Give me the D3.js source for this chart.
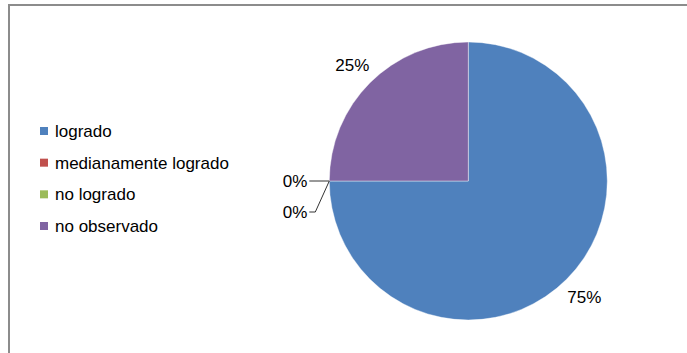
<!DOCTYPE html>
<html>
<head>
<meta charset="utf-8">
<script src="https://cdn.jsdelivr.net/npm/d3@7"></script>
<style>
  html, body { margin: 0; padding: 0; background: #fff; }
  svg { display: block; }
  text { font-family: Arial, "Liberation Sans", sans-serif; fill: #000; }
</style>
</head>
<body>
<svg id="chart" width="687" height="353"></svg>
<script>
// Categories, values (percent) and slice colours
const categories = ["logrado", "medianamente logrado", "no logrado", "no observado"];
const values = [75, 0, 0, 25];
const colors = ["#4F81BD", "#C0504D", "#9BBB59", "#8064A2"];
const valueLabels = values.map(v => v + "%");

const width = 687, height = 353;
const fontSize = 17;
const svg = d3.select("#chart");

// Chart frame (only top and left edges visible inside the window)
svg.append("rect")
  .attr("x", 9).attr("y", 5)
  .attr("width", 700).attr("height", 400)
  .attr("fill", "none")
  .attr("stroke", "#8c8c8c")
  .attr("stroke-width", 2);

// Pie geometry
const cx = 468.3, cy = 181, r = 139;
const g = svg.append("g").attr("transform", `translate(${cx},${cy})`);

const pie = d3.pie().sort(null).value(d => d.value);
const arcs = pie(categories.map((c, i) => ({ cat: c, value: values[i], color: colors[i], label: valueLabels[i] })));
const arc = d3.arc().innerRadius(0).outerRadius(r);

g.selectAll("path.slice")
  .data(arcs.filter(d => d.value > 0))
  .join("path")
  .attr("class", "slice")
  .attr("d", arc)
  .attr("fill", d => d.data.color)
  .attr("stroke", "#ffffff")
  .attr("stroke-opacity", 0.5)
  .attr("stroke-width", 0.8);

// Value labels for non-empty slices, placed outside the rim
const labelArc = d3.arc().innerRadius(164).outerRadius(164);
g.selectAll("text.val")
  .data(arcs.filter(d => d.value > 0))
  .join("text")
  .attr("class", "val")
  .attr("transform", d => `translate(${labelArc.centroid(d)})`)
  .attr("text-anchor", "middle")
  .attr("dy", "0.35em")
  .attr("font-size", fontSize)
  .text(d => d.data.label);

// Zero-value slices: labels stacked to the left with leader lines
const zeros = arcs.filter(d => d.value === 0);
zeros.forEach((d, i) => {
  const a = d.startAngle;
  const ex = r * Math.sin(a), ey = -r * Math.cos(a);
  const ly = ey + i * 31;
  const lx = ex - 20;
  let pts;
  if (i === 0) {
    pts = [[ex, ey], [lx, ly]];
  } else {
    pts = [[ex, ey], [lx + 6, ly], [lx, ly]];
  }
  g.append("path")
    .attr("d", d3.line()(pts))
    .attr("fill", "none")
    .attr("stroke", "#333")
    .attr("stroke-width", 1);
  g.append("text")
    .attr("x", lx - 2)
    .attr("y", ly)
    .attr("dy", "0.35em")
    .attr("text-anchor", "end")
    .attr("font-size", fontSize)
    .text(d.data.label);
});

// Legend
const legendY = d3.scalePoint().domain(categories).range([131, 226]);
const legend = svg.append("g");
const rows = legend.selectAll("g")
  .data(categories.map((c, i) => ({ cat: c, color: colors[i] })))
  .join("g")
  .attr("transform", d => `translate(40,${legendY(d.cat)})`);
rows.append("rect")
  .attr("x", 0).attr("y", -4)
  .attr("width", 8).attr("height", 8)
  .attr("fill", d => d.color);
rows.append("text")
  .attr("x", 15)
  .attr("dy", "0.35em")
  .attr("font-size", fontSize)
  .text(d => d.cat);
</script>
</body>
</html>
